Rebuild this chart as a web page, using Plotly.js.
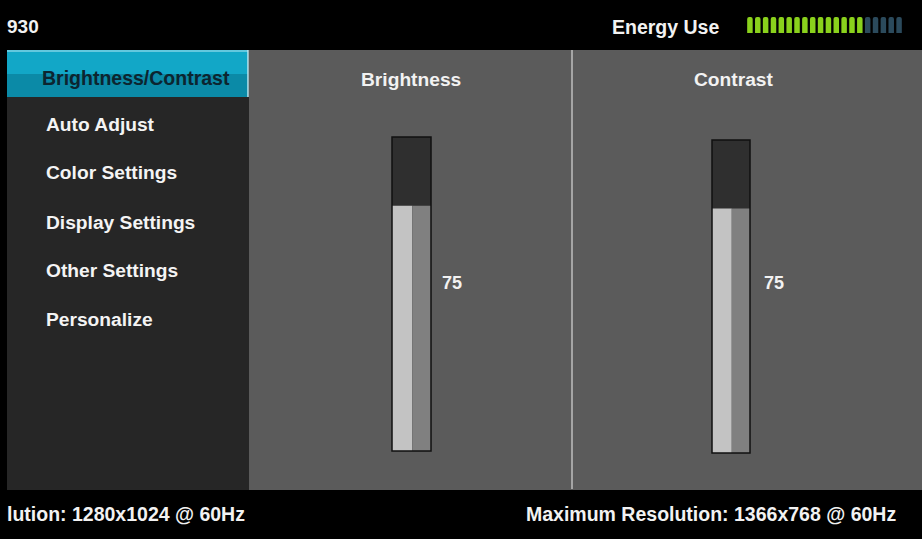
<!DOCTYPE html>
<html>
<head>
<meta charset="utf-8">
<script src="https://cdn.plot.ly/plotly-3.0.1.min.js"></script>
<style>html,body{margin:0;padding:0;background:#000;}#chart{width:922px;height:539px;}</style>
</head>
<body>
<div id="chart"></div>
<script>
// ---- data ----
const modelLabel = "930";
const menuItems = ["Brightness/Contrast", "Auto Adjust", "Color Settings", "Display Settings", "Other Settings", "Personalize"];
const selectedItem = "Brightness/Contrast";
const sliderNames = ["Brightness", "Contrast"];
const sliderValues = [75, 75];
const sliderMax = 100;
const energyTitle = "Energy Use";
const energySegmentsLit = [1,1,1,1,1,1,1,1,1,1,1,1,1,1,1,0,0,0,0,0];
const currentResolution = "lution: 1280x1024 @ 60Hz";
const maxResolution = "Maximum Resolution: 1366x768 @ 60Hz";

// ---- geometry helpers (pixel -> paper) ----
const W = 922, H = 539;
const px = x => x / W;
const py = y => 1 - y / H;
const FONT = "'Liberation Sans', Arial, sans-serif";

const shapes = [];
const annotations = [];
function rect(x0, y0, x1, y1, fill, line) {
  shapes.push({type: "rect", xref: "paper", yref: "paper", x0: px(x0), x1: px(x1), y0: py(y1), y1: py(y0),
    fillcolor: fill, line: line || {width: 0}, layer: "below"});
}
function text(t, x, y, size, color, anchor) {
  annotations.push({xref: "paper", yref: "paper", x: px(x), y: py(y), text: "<b>" + t + "</b>", showarrow: false,
    borderpad: 0, borderwidth: 0,
    xanchor: anchor || "left", yanchor: "middle", font: {family: FONT, size: size, color: color}});
}

// panels
rect(7, 50, 249, 490, "#262626");
rect(249, 50, 922, 490, "#5b5b5b");
// highlight of selected item
rect(7, 50, 248, 74, "#12a7c7");
rect(7, 74, 248, 97, "#0b8aa7");
shapes.push({type: "line", xref: "paper", yref: "paper", x0: px(7), x1: px(248), y0: py(51), y1: py(51), line: {color: "#7fd3e6", width: 1.5}});
shapes.push({type: "line", xref: "paper", yref: "paper", x0: px(248), x1: px(248), y0: py(50), y1: py(97), line: {color: "#bfe6ef", width: 1.5}});
// divider
shapes.push({type: "line", xref: "paper", yref: "paper", x0: px(572), x1: px(572), y0: py(50), y1: py(489), line: {color: "#a5a5a5", width: 2}});

// texts
text(modelLabel, 7, 27, 19, "#f2f2f2");
text(energyTitle, 612, 27, 19.5, "#f2f2f2");
const menuY = [78, 125, 173, 222, 270, 319];
menuItems.forEach((m, i) => {
  if (m === selectedItem) text(m, 136, menuY[i], 19.5, "#0c2530", "center");
  else text(m, 46, menuY[i], 19.2, "#f4f4f4");
});
const titleX = [411, 733];
sliderNames.forEach((n, i) => text(n, titleX[i], 79, 19.2, "#f2f2f2", "center"));
text(currentResolution, 7, 514, 19.5, "#f2f2f2");
text(maxResolution, 896, 514, 19.5, "#f2f2f2", "right");

// sliders as bar subplots
const sliderBox = [[392, 431, 137, 451], [712, 750, 140, 453]];
const labelShift = [11, 14];
const traces = [];
const layout = {
  width: W, height: H, margin: {l: 0, r: 0, t: 0, b: 0},
  paper_bgcolor: "#000", plot_bgcolor: "rgba(0,0,0,0)",
  showlegend: false, barmode: "overlay",
  shapes: shapes, annotations: annotations,
  hovermode: false
};
const axisOff = {showgrid: false, zeroline: false, showticklabels: false, ticks: "", showline: false, fixedrange: true};
const yTop = 96; // visual top of the track scale
sliderValues.forEach((v, i) => {
  const n = i + 1;
  const xa = "x" + n, ya = "y" + n;
  const b = sliderBox[i];
  layout["xaxis" + n] = Object.assign({}, axisOff, {domain: [px(b[0]), px(b[1])], range: [-0.5, 0.5], anchor: ya});
  layout["yaxis" + n] = Object.assign({}, axisOff, {domain: [py(b[3]), py(b[2])], range: [0, yTop], anchor: xa});
  // track
  traces.push({type: "bar", x: [0], y: [sliderMax], width: [1], xaxis: xa, yaxis: ya,
    marker: {color: "#2f2f2f", line: {width: 0}}});
  // fill: light left half and darker right half
  traces.push({type: "bar", x: [0], y: [v], width: [0.52], offset: [-0.5], xaxis: xa, yaxis: ya,
    marker: {color: "#c3c3c3", line: {width: 0}}});
  traces.push({type: "bar", x: [0], y: [v], width: [0.48], offset: [0.02], xaxis: xa, yaxis: ya,
    marker: {color: "#808080", line: {width: 0}}});
  // outline
  shapes.push({type: "rect", xref: xa + " domain", yref: ya + " domain", x0: 0, x1: 1, y0: 0, y1: 1,
    line: {color: "#111", width: 1.5}, fillcolor: "rgba(0,0,0,0)", layer: "above"});
  annotations.push({xref: xa + " domain", yref: "paper", x: 1, xshift: labelShift[i], y: py(283), xanchor: "left", yanchor: "middle",
    borderpad: 0, borderwidth: 0,
    text: "<b>" + v + "</b>", showarrow: false, font: {family: FONT, size: 18, color: "#f2f2f2"}});
});

// energy meter
const en = sliderValues.length + 1;
layout["xaxis" + en] = Object.assign({}, axisOff, {domain: [px(746), px(903)], range: [-0.5, energySegmentsLit.length - 0.5], anchor: "y" + en});
layout["yaxis" + en] = Object.assign({}, axisOff, {domain: [py(33), py(17)], range: [0, 1], anchor: "x" + en});
traces.push({type: "bar", x: energySegmentsLit.map((_, i) => i), y: energySegmentsLit.map(() => 1), width: 0.7,
  xaxis: "x" + en, yaxis: "y" + en,
  marker: {color: energySegmentsLit.map(s => s ? "#8ad11c" : "#2b4a5c"), cornerradius: 2, line: {width: 0}}});

Plotly.newPlot("chart", traces, layout, {displayModeBar: false, staticPlot: true});
</script>
</body>
</html>
